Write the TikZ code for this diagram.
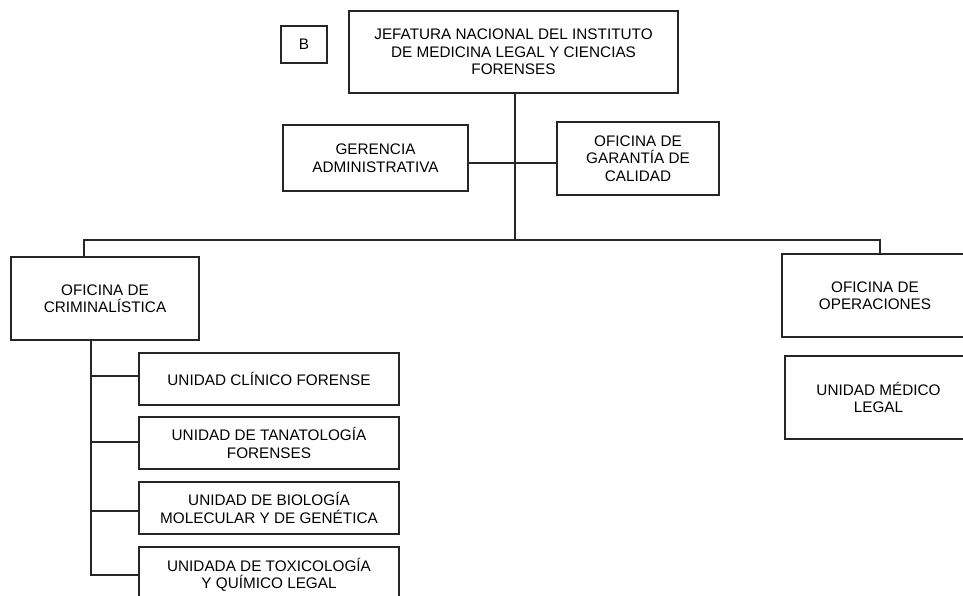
\documentclass[tikz,border=0pt]{standalone}
\usepackage{fontspec}
\setmainfont{Liberation Sans}
\begin{document}
\begin{tikzpicture}[x=1pt,y=-1pt,
  box/.style={draw=black!85,line width=1.3pt,rectangle,align=center,inner sep=2pt,
    font=\fontsize{15.3}{17.5}\selectfont},
  conn/.style={draw=black!85,line width=1.6pt}]
\useasboundingbox (0,0) rectangle (963,596);
\clip (0,0) rectangle (963,596);
\node[box,minimum width=329pt,minimum height=82pt] (top) at (513.5,52) {JEFATURA NACIONAL DEL INSTITUTO\\DE MEDICINA LEGAL Y CIENCIAS\\FORENSES};
\node[box,minimum width=46pt,minimum height=37pt] (b) at (304,44.5) {B};
\node[box,minimum width=185pt,minimum height=66pt] (ger) at (375.5,158) {GERENCIA\\ADMINISTRATIVA};
\node[box,minimum width=162pt,minimum height=73pt] (gar) at (638,158.5) {OFICINA DE\\GARANTÍA DE\\CALIDAD};
\node[box,minimum width=188pt,minimum height=83pt] (crim) at (105,298.5) {OFICINA DE\\CRIMINALÍSTICA};
\node[box,minimum width=260pt,minimum height=52pt] (u1) at (269,379) {UNIDAD CLÍNICO FORENSE};
\node[box,minimum width=260pt,minimum height=52pt] (u2) at (269,443) {UNIDAD DE TANATOLOGÍA\\FORENSES};
\node[box,minimum width=260pt,minimum height=52pt] (u3) at (269,508) {UNIDAD DE BIOLOGÍA\\MOLECULAR Y DE GENÉTICA};
\node[box,minimum width=260pt,minimum height=56pt] (u4) at (269,575) {UNIDADA DE TOXICOLOGÍA\\Y QUÍMICO LEGAL};
\node[box,minimum width=186pt,minimum height=83pt] (ops) at (875,295.5) {OFICINA DE\\OPERACIONES};
\node[box,minimum width=187pt,minimum height=83pt] (uml) at (878.5,397.5) {UNIDAD MÉDICO\\LEGAL};
\coordinate (bus) at (515,240);
\coordinate (trunk) at (91,0);
\draw[conn] ([xshift=1.5pt]top.south) -- ([xshift=1.5pt]top.south |- bus);
\draw[conn] ([yshift=-5pt]ger.east) -- ([yshift=-4.5pt]gar.west);
\draw[conn] ([xshift=-21pt]crim.north) |- (bus) -| ([xshift=5pt]ops.north);
\draw[conn] ([xshift=-14pt]crim.south) |- (u4.west);
\draw[conn] ([yshift=3pt]u1.west) -- ([yshift=3pt]u1.west -| trunk);
\draw[conn] ([yshift=1pt]u2.west) -- ([yshift=1pt]u2.west -| trunk);
\draw[conn] ([yshift=-3pt]u3.west) -- ([yshift=-3pt]u3.west -| trunk);
\end{tikzpicture}
\end{document}
